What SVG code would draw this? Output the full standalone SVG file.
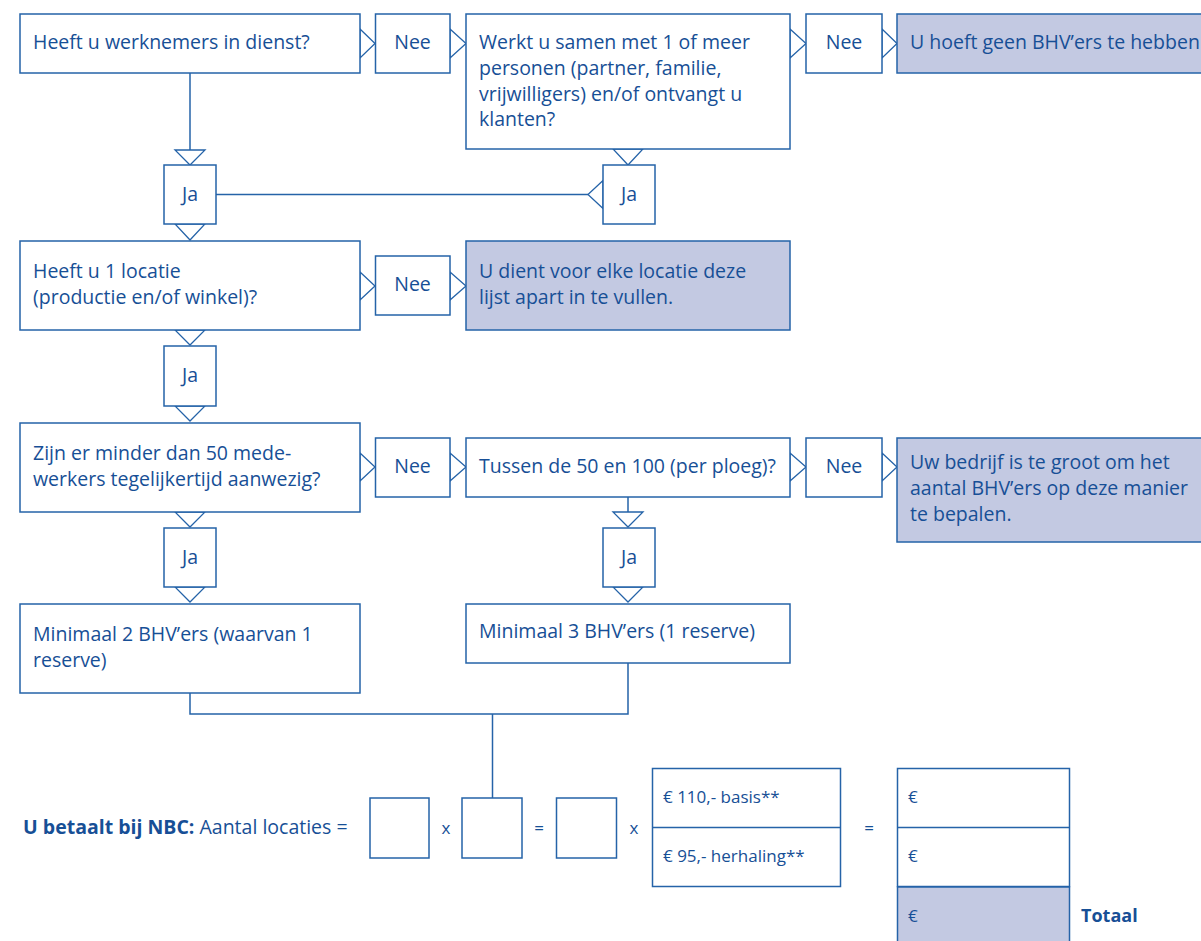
<svg xmlns="http://www.w3.org/2000/svg" width="1201" height="941" viewBox="0 0 1201 941">
<style>
.b{fill:#fff;stroke:#2563a8;stroke-width:1.5}
.g{fill:#c3c9e2;stroke:#2563a8;stroke-width:1.5}
.t{fill:#fff;stroke:#2563a8;stroke-width:1.3;stroke-linejoin:miter}
.l{fill:none;stroke:#2563a8;stroke-width:1.5}
text{font-family:"Open Sans","Liberation Sans",sans-serif;font-size:19.5px;fill:#174f96}
.c{text-anchor:middle}
.bd{font-weight:bold}
.s{font-size:17px}
</style>
<rect width="1201" height="941" fill="#fff"/>
<g id="connectors">
<polyline class="l" points="190,73 190,150"/>
<polyline class="l" points="216,194.5 588,194.5"/>
<polyline class="l" points="628,497 628,512"/>
<polyline class="l" points="190,693 190,714 628,714 628,663"/>
<polyline class="l" points="492.5,714 492.5,798"/>
<polygon class="t" points="360,29 375,43.5 360,58"/>
<polygon class="t" points="450,29 466,43.5 450,58"/>
<polygon class="t" points="790,29 806,43.5 790,58"/>
<polygon class="t" points="882,29 897,43.5 882,58"/>
<polygon class="t" points="175,150 205,150 190,165"/>
<polygon class="t" points="613,149 643,149 628,165"/>
<polygon class="t" points="603,180.5 603,208.5 588,194.5"/>
<polygon class="t" points="175,224 205,224 190,240"/>
<polygon class="t" points="360,272 375,286 360,300"/>
<polygon class="t" points="450,272 466,286 450,300"/>
<polygon class="t" points="175,330 205,330 190,345"/>
<polygon class="t" points="175,406 205,406 190,421"/>
<polygon class="t" points="360,453 375,467 360,481"/>
<polygon class="t" points="450,453 466,467 450,481"/>
<polygon class="t" points="790,453 806,467 790,481"/>
<polygon class="t" points="882,453 897,467 882,481"/>
<polygon class="t" points="175,512 205,512 190,527"/>
<polygon class="t" points="175,587 205,587 190,602"/>
<polygon class="t" points="613,512 643,512 628,527"/>
<polygon class="t" points="613,587 643,587 628,602"/>
</g>
<g id="q1"><rect class="b" x="20" y="14" width="340" height="59"/><text x="33" y="49">Heeft u werknemers in dienst?</text></g>
<g id="nee1"><rect class="b" x="375.5" y="14" width="74.5" height="59"/><text class="c" x="412.5" y="49">Nee</text></g>
<g id="q2"><rect class="b" x="466" y="14" width="324" height="135"/><text x="479" y="49">Werkt u samen met 1 of meer</text><text x="479" y="75">personen (partner, familie,</text><text x="479" y="101">vrijwilligers) en/of ontvangt u</text><text x="479" y="126">klanten?</text></g>
<g id="nee2"><rect class="b" x="806" y="14" width="76" height="59"/><text class="c" x="844" y="49">Nee</text></g>
<g id="r1"><rect class="g" x="897" y="14" width="320" height="59"/><text x="910" y="49">U hoeft geen BHV’ers te hebben</text></g>
<g id="ja1"><rect class="b" x="164" y="165" width="52" height="59"/><text class="c" x="190" y="201">Ja</text></g>
<g id="ja2"><rect class="b" x="603" y="165" width="52" height="59"/><text class="c" x="629" y="201">Ja</text></g>
<g id="q3"><rect class="b" x="20" y="241" width="340" height="89"/><text x="33" y="278">Heeft u 1 locatie</text><text x="33" y="304">(productie en/of winkel)?</text></g>
<g id="nee3"><rect class="b" x="375.5" y="256" width="74.5" height="59"/><text class="c" x="412.5" y="291">Nee</text></g>
<g id="r2"><rect class="g" x="466" y="241" width="324" height="89"/><text x="479" y="278">U dient voor elke locatie deze</text><text x="479" y="304">lijst apart in te vullen.</text></g>
<g id="ja3"><rect class="b" x="164" y="346" width="52" height="60"/><text class="c" x="190" y="382">Ja</text></g>
<g id="q4"><rect class="b" x="20" y="423" width="340" height="89"/><text x="33" y="460">Zijn er minder dan 50 mede-</text><text x="33" y="486">werkers tegelijkertijd aanwezig?</text></g>
<g id="nee4"><rect class="b" x="375.5" y="438" width="74.5" height="59"/><text class="c" x="412.5" y="473">Nee</text></g>
<g id="q5"><rect class="b" x="466" y="438" width="324" height="59"/><text x="479" y="473">Tussen de 50 en 100 (per ploeg)?</text></g>
<g id="nee5"><rect class="b" x="806" y="438" width="76" height="59"/><text class="c" x="844" y="473">Nee</text></g>
<g id="r3"><rect class="g" x="897" y="438" width="320" height="104"/><text x="910" y="469">Uw bedrijf is te groot om het</text><text x="910" y="495">aantal BHV’ers op deze manier</text><text x="910" y="521">te bepalen.</text></g>
<g id="ja4"><rect class="b" x="164" y="528" width="52" height="59"/><text class="c" x="190" y="564">Ja</text></g>
<g id="ja5"><rect class="b" x="603" y="528" width="52" height="59"/><text class="c" x="629" y="564">Ja</text></g>
<g id="r4"><rect class="b" x="20" y="604" width="340" height="89"/><text x="33" y="641">Minimaal 2 BHV’ers (waarvan 1</text><text x="33" y="667">reserve)</text></g>
<g id="r5"><rect class="b" x="466" y="604" width="324" height="59"/><text x="479" y="638">Minimaal 3 BHV’ers (1 reserve)</text></g>
<g id="formula">
<text x="23" y="834"><tspan class="bd">U betaalt bij NBC:</tspan> Aantal locaties =</text>
<rect class="b" x="370" y="798" width="59" height="60"/>
<text class="c s" x="446" y="834">x</text>
<rect class="b" x="462" y="798" width="60" height="60"/>
<text class="c s" x="539" y="834">=</text>
<rect class="b" x="556.5" y="798" width="60" height="60"/>
<text class="c s" x="634" y="834">x</text>
<rect class="b" x="652.5" y="768.5" width="188" height="118"/>
<line class="l" x1="652.5" y1="827.5" x2="840.5" y2="827.5"/>
<text class="s" x="663" y="803">€ 110,- basis**</text>
<text class="s" x="663" y="862">€ 95,- herhaling**</text>
<text class="c s" x="869" y="834">=</text>
<rect class="b" x="897.5" y="768.5" width="172" height="118"/>
<line class="l" x1="897.5" y1="827.5" x2="1069.5" y2="827.5"/>
<rect class="g" x="897.5" y="887" width="172" height="60"/>
<text class="s" x="908" y="803">€</text>
<text class="s" x="908" y="862">€</text>
<text class="s" x="908" y="922">€</text>
<text class="bd" x="1081" y="922" style="font-size:18px">Totaal</text>
</g>
</svg>
